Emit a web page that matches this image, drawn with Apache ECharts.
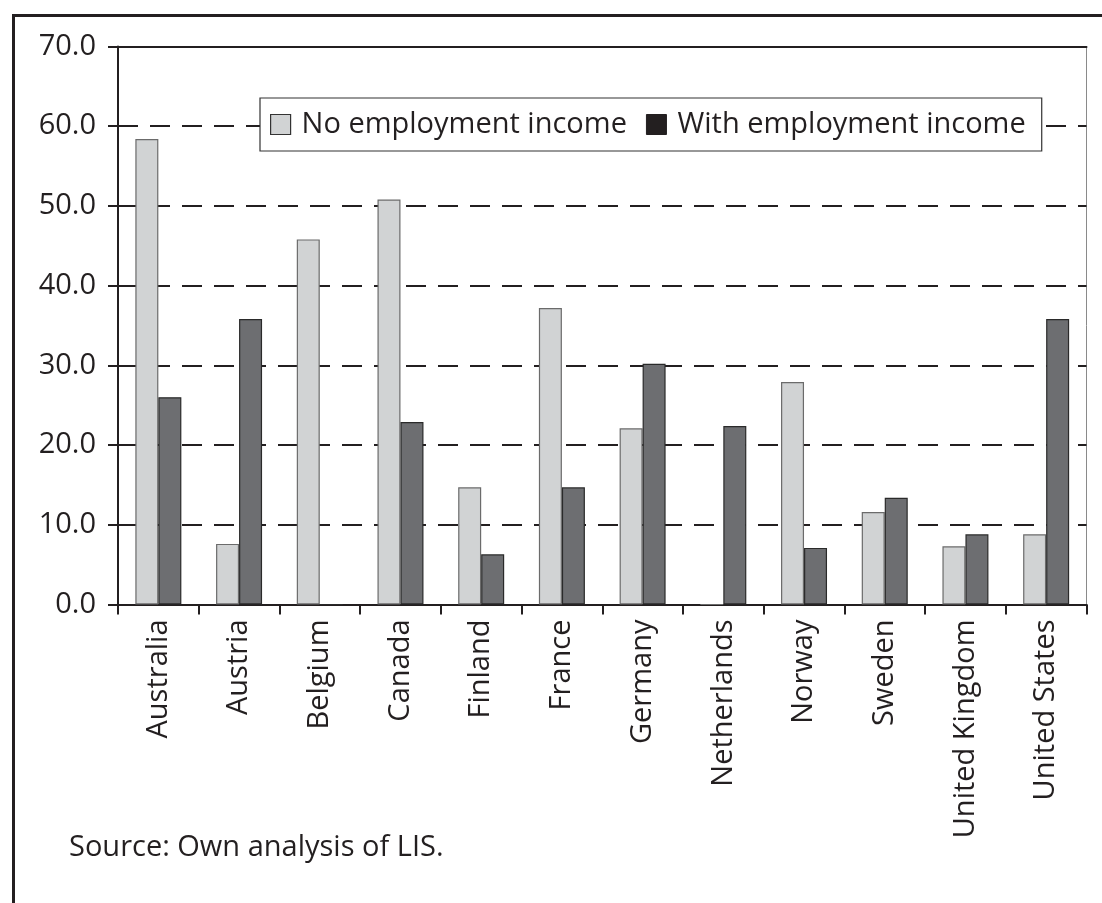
<!DOCTYPE html>
<html>
<head>
<meta charset="utf-8">
<script src="https://cdn.jsdelivr.net/npm/echarts@6/dist/echarts.min.js"></script>
<style>
  html, body { margin: 0; padding: 0; background: #fff; }
  #chart { width: 1102px; height: 903px; }
</style>
</head>
<body>
<div id="chart"></div>
<script>
// Poverty rates by country, split by whether the household has employment income
const countries = ['Australia', 'Austria', 'Belgium', 'Canada', 'Finland', 'France',
  'Germany', 'Netherlands', 'Norway', 'Sweden', 'United Kingdom', 'United States'];
const noEmployment = [58.4, 7.6, 45.8, 50.8, 14.7, 37.2, 22.1, 0, 27.9, 11.6, 7.3, 8.8];
const withEmployment = [26.0, 35.8, 0, 22.9, 6.3, 14.7, 30.2, 22.4, 7.1, 13.4, 8.8, 35.8];
const yTicks = [0, 10, 20, 30, 40, 50, 60, 70];

const FONT = '"Open Sans", "Noto Sans", sans-serif';
const INK = '#231f20';
const FS = 29;
const FW = 400;

const chart = echarts.init(document.getElementById('chart'), null, { renderer: 'canvas' });

chart.setOption({
  animation: false,
  backgroundColor: '#fff',
  textStyle: { fontFamily: FONT, color: INK, fontWeight: FW },
  grid: {
    left: 118, right: 15.5, top: 46.5, bottom: 298.5,
    show: true, borderColor: '#8a8a8a', borderWidth: 1, backgroundColor: 'transparent'
  },
  legend: {
    left: 260, top: 98,
    padding: [12, 16, 12, 10],
    backgroundColor: '#fff',
    borderColor: '#333',
    borderWidth: 1.2,
    icon: 'rect',
    itemWidth: 20, itemHeight: 20, itemGap: 19,
    textStyle: { fontSize: FS, fontWeight: FW, fontFamily: FONT, color: INK, padding: [0, 0, 0, 6] },
    data: [
      { name: 'No employment income', itemStyle: { color: '#d1d3d4', borderColor: '#333', borderWidth: 1.2 } },
      { name: 'With employment income', itemStyle: { color: INK, borderColor: INK, borderWidth: 1 } }
    ]
  },
  xAxis: [{
    type: 'category',
    data: countries,
    position: 'bottom',
    axisLine: { lineStyle: { color: INK, width: 2 } },
    axisTick: { show: true, length: 10, lineStyle: { color: INK, width: 2 } },
    axisLabel: { rotate: 90, margin: 15, fontSize: FS, fontWeight: FW, fontFamily: FONT, color: INK },
    splitLine: { show: false }
  }, {
    type: 'category',
    data: countries,
    position: 'top',
    axisLine: { lineStyle: { color: INK, width: 2 } },
    axisTick: { show: false },
    axisLabel: { show: false }
  }],
  yAxis: {
    type: 'value',
    min: yTicks[0], max: yTicks[yTicks.length - 1], interval: 10,
    axisLine: { show: true, lineStyle: { color: INK, width: 2 } },
    axisTick: { show: true, length: 10, lineStyle: { color: INK, width: 2 } },
    axisLabel: {
      margin: 22, fontSize: FS, fontWeight: FW, fontFamily: FONT, color: INK,
      formatter: v => v.toFixed(1)
    },
    splitLine: {
      show: true,
      lineStyle: { color: INK, width: 2, type: [20, 12] }
    }
  },
  series: [{
    name: 'No employment income',
    type: 'bar',
    data: noEmployment,
    barWidth: 23,
    barGap: '0%',
    itemStyle: { color: '#d1d3d4', borderColor: '#6b6b6b', borderWidth: 1.2 }
  }, {
    name: 'With employment income',
    type: 'bar',
    data: withEmployment,
    barWidth: 23,
    barGap: '0%',
    itemStyle: { color: '#6d6e71', borderColor: '#2a2a2a', borderWidth: 1.2 }
  }],
  graphic: [{
    type: 'rect',
    left: 11, top: 13,
    shape: { width: 1110, height: 910 },
    style: { fill: 'none', stroke: INK, lineWidth: 3 },
    silent: true
  }, {
    type: 'text',
    left: 69, top: 833,
    style: {
      text: 'Source: Own analysis of LIS.',
      fontSize: FS, fontWeight: FW, fontFamily: FONT, fill: INK
    }
  }]
});
</script>
</body>
</html>
